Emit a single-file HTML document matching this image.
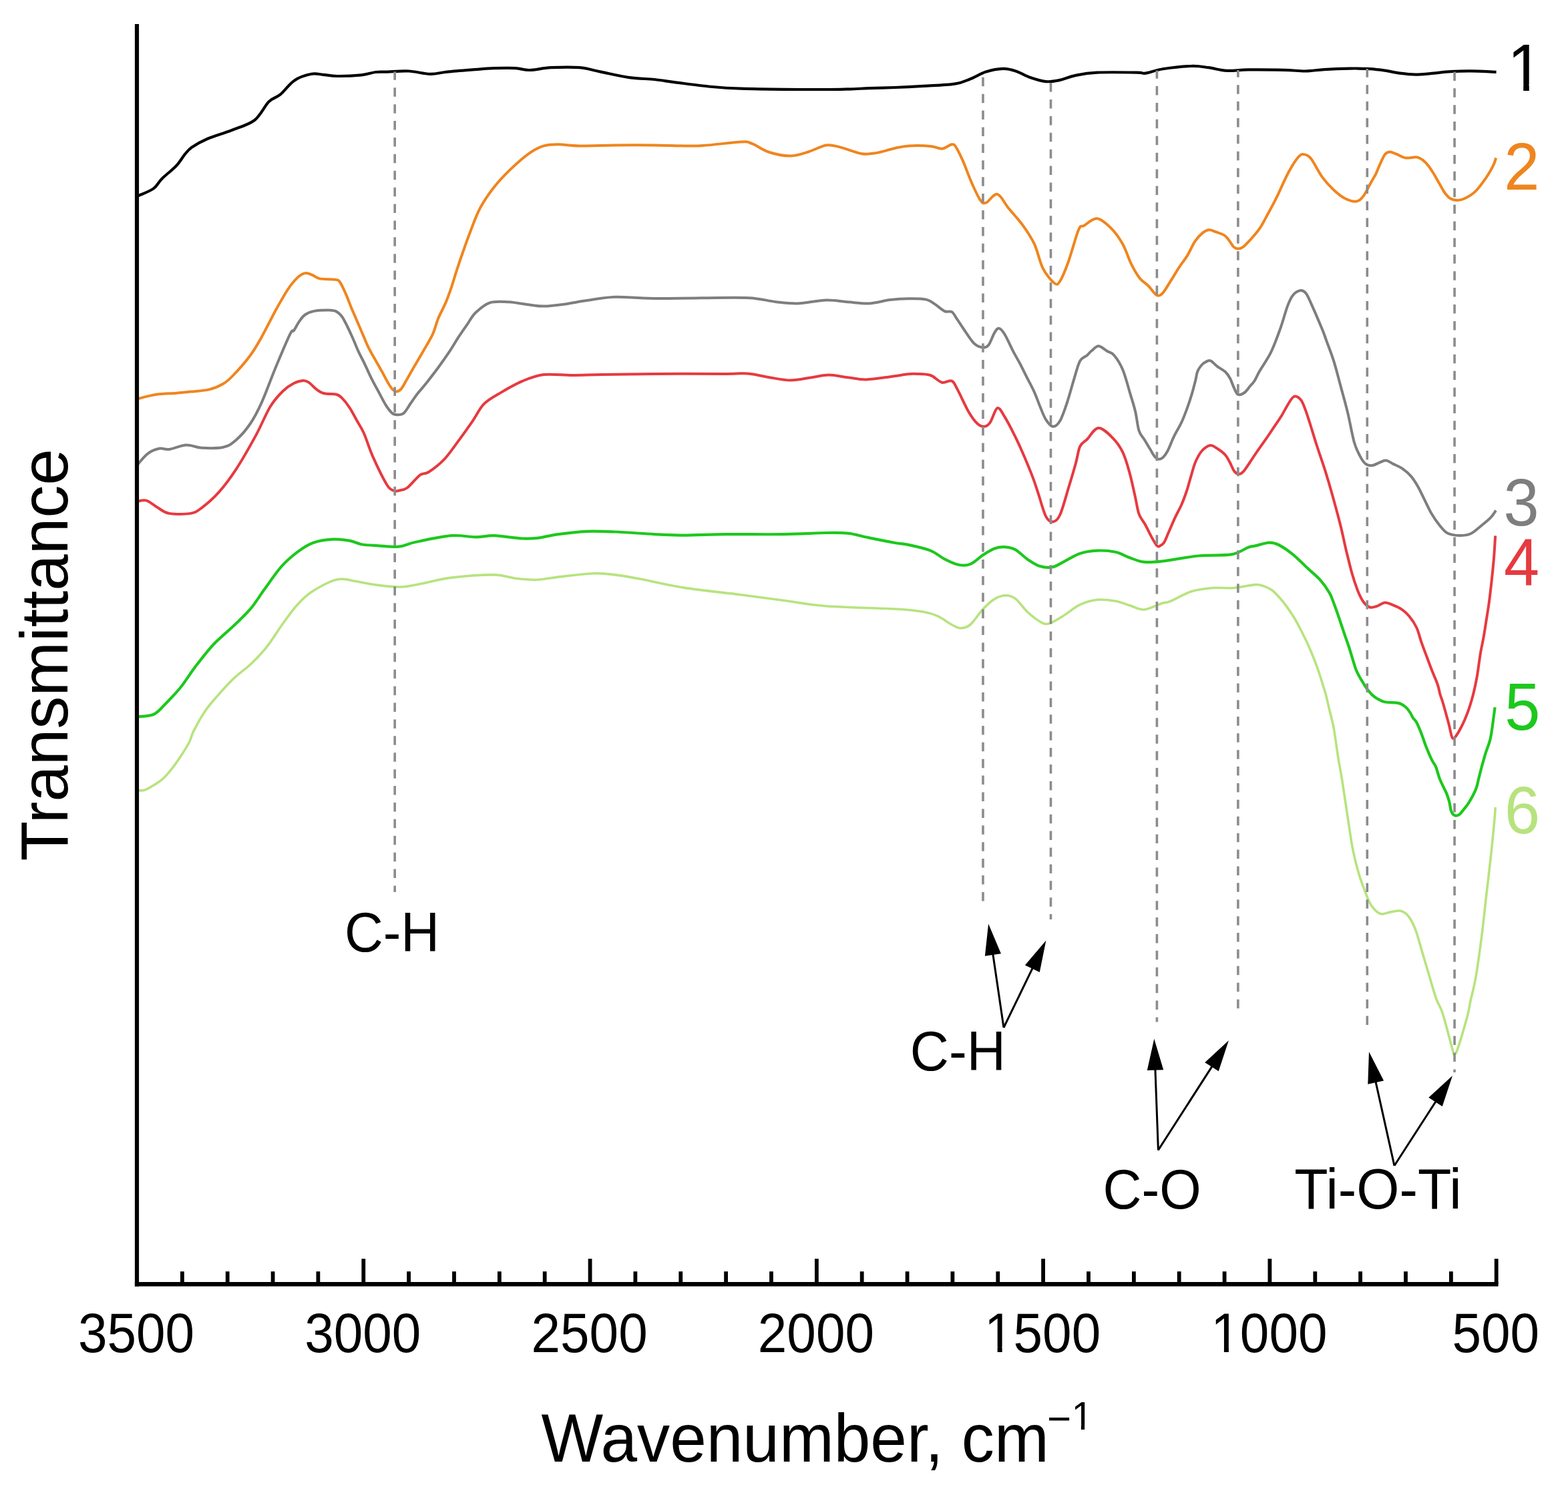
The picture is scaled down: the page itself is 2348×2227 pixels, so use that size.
<!DOCTYPE html><html><head><meta charset="utf-8"><title>FTIR spectra</title>
<style>html,body{margin:0;padding:0;background:#fff;}svg{display:block;}text{font-family:"Liberation Sans",Arial,sans-serif;}</style></head><body>
<svg xmlns="http://www.w3.org/2000/svg" width="2348" height="2227" viewBox="0 0 2348 2227">
<rect width="2348" height="2227" fill="#fff"/>
<path d="M205.0,1183.5 C206.9,1183.5 212.1,1184.7 216.7,1183.2 C221.3,1181.7 227.8,1177.6 232.6,1174.6 C237.4,1171.6 241.1,1169.1 245.4,1165.0 C249.7,1160.9 253.9,1155.6 258.2,1150.1 C262.5,1144.6 266.7,1138.6 271.0,1132.0 C275.3,1125.4 280.7,1116.8 283.8,1110.7 C286.9,1104.6 285.8,1103.1 289.6,1095.6 C293.4,1088.1 300.9,1074.2 306.6,1065.7 C312.3,1057.2 316.6,1052.6 323.7,1044.4 C330.8,1036.2 340.4,1025.2 349.3,1016.7 C358.2,1008.2 368.5,1001.4 377.0,993.2 C385.5,985.0 392.6,977.6 400.4,967.6 C408.2,957.6 416.4,943.8 423.9,933.5 C431.4,923.2 438.1,913.6 445.2,905.8 C452.3,898.0 457.6,892.6 466.5,886.6 C475.4,880.6 490.3,872.8 498.5,869.6 C506.7,866.4 509.9,867.2 515.6,867.4 C521.3,867.6 524.8,869.2 532.6,870.6 C540.4,872.0 551.3,874.5 562.5,875.9 C573.7,877.3 588.2,879.4 600.0,879.0 C611.8,878.6 620.6,876.0 633.3,873.7 C646.0,871.4 658.2,867.2 676.0,865.1 C693.8,863.0 723.9,860.7 739.9,860.9 C755.9,861.1 761.2,865.0 771.9,866.2 C782.6,867.4 793.2,868.6 803.9,868.3 C814.6,867.9 821.7,865.7 835.9,864.1 C850.1,862.5 875.0,859.2 889.2,858.7 C903.4,858.2 909.4,859.5 921.2,860.9 C933.0,862.3 942.9,864.1 960.0,867.3 C977.1,870.5 999.1,876.2 1024.0,880.1 C1048.9,884.0 1084.4,887.5 1109.3,890.7 C1134.2,893.9 1151.9,896.4 1173.2,899.3 C1194.5,902.1 1209.4,905.7 1237.2,907.8 C1265.0,909.9 1315.8,910.6 1340.0,912.0 C1364.2,913.4 1371.9,914.5 1382.6,916.3 C1393.3,918.1 1396.9,919.5 1404.0,922.7 C1411.1,925.9 1419.6,932.5 1425.3,935.5 C1431.0,938.5 1433.5,940.8 1438.1,940.8 C1442.7,940.8 1447.3,940.3 1453.0,935.5 C1458.7,930.7 1466.2,918.4 1472.2,912.0 C1478.2,905.6 1483.6,900.5 1489.3,897.1 C1495.0,893.7 1501.0,891.8 1506.3,891.8 C1511.6,891.8 1515.9,893.0 1521.2,897.1 C1526.5,901.2 1531.9,910.4 1538.3,916.3 C1544.7,922.2 1553.9,929.4 1559.6,932.3 C1565.3,935.1 1567.1,935.0 1572.4,933.4 C1577.7,931.8 1584.1,927.3 1591.6,922.7 C1599.1,918.1 1608.7,909.8 1617.2,905.7 C1625.7,901.6 1633.9,899.1 1642.8,898.2 C1651.7,897.3 1662.3,898.9 1670.5,900.3 C1678.7,901.7 1684.7,904.6 1691.8,906.7 C1698.9,908.8 1705.1,913.5 1713.1,913.0 C1721.1,912.5 1733.5,905.5 1740.0,903.5 C1746.5,901.5 1744.7,903.7 1752.0,900.7 C1759.3,897.8 1773.3,889.2 1784.0,885.8 C1794.7,882.4 1805.2,881.4 1815.9,880.5 C1826.6,879.6 1837.2,881.3 1847.9,880.5 C1858.6,879.7 1872.2,876.0 1879.9,875.6 C1887.6,875.2 1889.7,877.0 1893.9,878.4 C1898.1,879.8 1901.2,881.2 1904.9,884.0 C1908.6,886.8 1912.3,890.9 1916.0,895.0 C1919.7,899.1 1923.4,903.8 1927.1,908.9 C1930.8,914.0 1934.7,919.7 1938.2,925.5 C1941.7,931.3 1944.7,937.2 1947.9,943.5 C1951.1,949.8 1954.6,956.5 1957.6,963.0 C1960.6,969.5 1963.1,975.5 1965.9,982.4 C1968.7,989.3 1971.7,997.1 1974.2,1004.5 C1976.8,1011.9 1979.4,1020.8 1981.2,1026.7 C1983.0,1032.6 1983.8,1034.1 1985.3,1040.0 C1986.8,1045.9 1988.5,1053.6 1990.5,1062.0 C1992.5,1070.4 1995.0,1078.7 1997.2,1090.5 C1999.4,1102.3 2001.5,1119.8 2003.6,1133.1 C2005.7,1146.3 2007.4,1153.7 2010.0,1170.0 C2012.6,1186.3 2016.5,1213.9 2019.2,1231.2 C2021.9,1248.5 2023.5,1261.0 2026.1,1273.8 C2028.7,1286.6 2031.5,1297.4 2034.6,1307.9 C2037.7,1318.4 2041.7,1328.9 2044.8,1336.9 C2047.9,1344.9 2049.6,1350.4 2053.3,1355.7 C2057.0,1361.0 2062.2,1366.8 2067.0,1368.5 C2071.8,1370.2 2077.2,1366.6 2082.3,1365.9 C2087.4,1365.2 2093.1,1363.1 2097.7,1364.2 C2102.2,1365.3 2105.9,1368.0 2109.6,1372.8 C2113.3,1377.6 2116.5,1384.1 2119.9,1393.2 C2123.3,1402.3 2126.7,1415.9 2130.1,1427.3 C2133.5,1438.7 2136.9,1450.1 2140.3,1461.5 C2143.7,1472.9 2147.3,1486.2 2150.6,1495.6 C2153.9,1505.0 2156.2,1505.0 2160.3,1517.7 C2164.4,1530.4 2172.1,1561.5 2175.0,1571.7 C2177.9,1581.9 2176.3,1579.0 2177.5,1579.0 C2178.7,1579.0 2179.1,1581.1 2182.4,1571.7 C2185.7,1562.3 2193.9,1534.5 2197.1,1522.6 C2200.3,1510.6 2199.6,1510.2 2201.8,1500.0 C2204.0,1489.8 2207.5,1477.9 2210.3,1461.5 C2213.1,1445.1 2216.2,1421.7 2218.8,1401.8 C2221.4,1381.9 2223.3,1361.9 2225.6,1342.0 C2227.9,1322.1 2230.5,1300.8 2232.5,1282.3 C2234.5,1263.8 2236.5,1243.4 2237.6,1231.2 C2238.7,1219.0 2239.0,1212.7 2239.3,1209.0" fill="none" stroke="#B7E37E" stroke-width="3.6" stroke-linejoin="round" stroke-linecap="butt"/>
<path d="M205.0,1073.5 C209.2,1072.9 222.9,1073.1 229.9,1070.0 C236.9,1066.9 240.2,1061.8 246.9,1055.0 C253.7,1048.2 262.9,1038.7 270.4,1029.5 C277.9,1020.3 283.5,1010.3 291.7,999.6 C299.9,988.9 309.8,975.8 319.4,965.5 C329.0,955.2 340.1,946.7 349.3,937.8 C358.5,928.9 367.0,921.5 374.8,912.2 C382.6,903.0 388.4,893.0 396.2,882.3 C404.0,871.6 413.5,857.4 421.7,848.2 C429.9,839.0 437.4,832.8 445.2,826.9 C453.0,821.0 459.8,816.2 468.7,813.0 C477.6,809.8 489.3,808.2 498.5,807.7 C507.7,807.2 517.0,808.6 524.1,809.9 C531.2,811.1 534.1,814.0 541.2,815.2 C548.3,816.4 557.4,816.7 566.7,817.3 C576.0,817.9 587.8,819.6 597.1,818.7 C606.4,817.8 609.5,814.5 622.6,811.8 C635.8,809.0 661.1,803.4 676.0,802.2 C690.9,801.0 701.6,804.4 712.2,804.4 C722.9,804.4 728.2,801.9 739.9,802.2 C751.6,802.6 771.9,805.9 782.6,806.5 C793.3,807.1 795.0,807.0 803.9,805.9 C812.8,804.8 823.5,801.8 835.9,800.1 C848.3,798.4 864.3,796.4 878.5,795.8 C892.7,795.2 904.3,795.8 921.2,796.5 C938.1,797.2 962.9,799.2 980.0,800.1 C997.1,801.0 1006.0,801.6 1024.0,801.6 C1042.0,801.6 1063.0,800.4 1087.9,800.1 C1112.8,799.9 1148.3,800.5 1173.2,800.1 C1198.1,799.8 1221.2,798.2 1237.2,798.0 C1253.2,797.8 1258.5,797.4 1269.2,798.6 C1279.9,799.8 1289.4,803.0 1301.2,805.4 C1313.0,807.8 1330.0,811.2 1340.0,813.0 C1350.0,814.8 1352.4,814.2 1361.3,816.1 C1370.2,818.0 1384.4,821.1 1393.3,824.6 C1402.2,828.1 1407.5,833.8 1414.6,837.4 C1421.7,841.0 1429.6,844.8 1436.0,846.0 C1442.4,847.2 1447.0,847.4 1453.0,844.9 C1459.0,842.4 1466.2,834.9 1472.2,831.0 C1478.2,827.1 1483.6,823.4 1489.3,821.4 C1495.0,819.4 1501.0,818.9 1506.3,819.3 C1511.6,819.7 1515.9,820.6 1521.2,823.6 C1526.5,826.6 1532.2,833.3 1538.3,837.4 C1544.3,841.5 1551.1,846.1 1557.5,848.1 C1563.9,850.1 1570.3,850.5 1576.7,849.1 C1583.1,847.7 1589.2,843.0 1595.9,839.6 C1602.7,836.2 1609.4,831.4 1617.2,828.9 C1625.0,826.4 1633.9,825.0 1642.8,824.6 C1651.7,824.2 1662.3,825.0 1670.5,826.8 C1678.7,828.6 1684.7,832.8 1691.8,835.3 C1698.9,837.8 1705.1,840.8 1713.1,841.7 C1721.1,842.6 1726.4,842.0 1740.0,840.5 C1753.6,839.0 1777.3,834.2 1794.6,832.5 C1811.9,830.8 1831.2,832.5 1843.7,830.4 C1856.2,828.3 1863.2,821.9 1869.3,819.7 C1875.3,817.5 1874.8,818.6 1880.0,817.4 C1885.2,816.2 1895.0,812.8 1900.8,812.6 C1906.6,812.4 1908.9,813.1 1914.7,816.0 C1920.5,818.9 1928.5,824.4 1935.4,829.9 C1942.3,835.4 1949.3,842.8 1956.2,849.3 C1963.1,855.8 1971.2,862.2 1977.0,868.7 C1982.8,875.2 1987.4,882.1 1990.9,888.1 C1994.4,894.1 1995.5,898.7 1997.8,904.7 C2000.1,910.7 2002.2,916.7 2004.7,924.1 C2007.2,931.5 2010.5,941.6 2013.1,949.1 C2015.6,956.6 2017.8,962.2 2020.0,969.0 C2022.2,975.8 2024.6,984.3 2026.4,990.0 C2028.2,995.7 2029.1,999.3 2030.7,1003.3 C2032.3,1007.3 2034.0,1010.5 2036.0,1014.0 C2038.0,1017.5 2040.5,1021.5 2042.4,1024.6 C2044.4,1027.7 2045.7,1029.9 2047.7,1032.6 C2049.7,1035.3 2052.1,1038.3 2054.6,1040.6 C2057.1,1042.9 2059.5,1044.7 2062.6,1046.5 C2065.7,1048.3 2068.9,1050.3 2073.3,1051.3 C2077.8,1052.3 2085.3,1052.0 2089.3,1052.4 C2093.3,1052.9 2094.6,1052.8 2097.3,1054.0 C2100.0,1055.2 2102.9,1057.1 2105.3,1059.3 C2107.7,1061.5 2109.9,1064.6 2111.7,1067.3 C2113.5,1070.0 2114.4,1072.9 2116.0,1075.3 C2117.6,1077.7 2119.0,1077.7 2121.0,1081.5 C2123.0,1085.3 2125.8,1091.8 2128.2,1097.9 C2130.6,1104.0 2132.8,1111.3 2135.4,1118.0 C2138.1,1124.7 2141.7,1133.2 2144.1,1138.2 C2146.5,1143.2 2148.1,1143.6 2150.0,1148.1 C2151.9,1152.6 2153.7,1160.4 2155.5,1165.4 C2157.3,1170.4 2159.4,1174.2 2161.1,1177.9 C2162.8,1181.6 2164.4,1183.9 2165.9,1187.6 C2167.4,1191.3 2168.9,1195.7 2170.1,1200.1 C2171.3,1204.5 2171.6,1210.5 2172.9,1214.0 C2174.2,1217.5 2175.7,1219.9 2177.7,1220.9 C2179.7,1221.9 2182.4,1221.6 2184.7,1220.2 C2187.0,1218.8 2189.3,1215.4 2191.6,1212.6 C2193.9,1209.8 2196.2,1207.1 2198.5,1203.6 C2200.8,1200.1 2203.3,1195.8 2205.4,1191.8 C2207.5,1187.8 2209.5,1183.7 2211.0,1179.3 C2212.5,1174.9 2213.2,1170.0 2214.4,1165.4 C2215.6,1160.8 2216.7,1156.0 2217.9,1151.6 C2219.1,1147.2 2220.2,1143.1 2221.4,1139.1 C2222.6,1135.0 2223.5,1131.2 2224.8,1127.3 C2226.1,1123.4 2227.8,1119.0 2229.0,1115.5 C2230.2,1112.0 2230.9,1110.2 2231.8,1106.0 C2232.7,1101.8 2233.4,1097.8 2234.5,1090.0 C2235.6,1082.2 2237.9,1064.4 2238.6,1059.3" fill="none" stroke="#1DC81D" stroke-width="4.2" stroke-linejoin="round" stroke-linecap="butt"/>
<path d="M205.0,751.0 C207.4,750.8 214.0,748.2 219.2,749.7 C224.4,751.2 230.5,757.1 236.2,760.3 C241.9,763.5 245.1,767.5 253.3,768.9 C261.5,770.3 277.1,770.3 285.3,768.9 C293.5,767.5 295.2,765.6 302.3,760.3 C309.4,755.0 319.4,746.5 327.9,736.9 C336.4,727.3 344.2,717.0 353.5,702.8 C362.8,688.6 374.9,667.2 383.4,651.6 C391.9,636.0 397.9,620.0 404.7,609.0 C411.4,598.0 418.0,591.3 423.9,585.5 C429.8,579.7 435.0,576.6 440.0,574.0 C445.0,571.4 450.2,570.1 453.9,569.9 C457.6,569.7 458.7,570.4 462.2,572.7 C465.7,575.0 470.8,580.9 474.7,583.7 C478.6,586.5 480.8,588.1 485.7,589.3 C490.6,590.5 499.4,589.6 503.8,590.7 C508.2,591.9 508.9,593.0 512.1,596.2 C515.3,599.4 519.5,604.6 523.2,610.1 C526.9,615.6 530.6,623.0 534.2,629.5 C537.8,636.0 541.0,640.0 545.0,649.0 C549.0,658.0 552.5,670.7 558.2,683.6 C564.0,696.5 574.2,717.6 579.5,726.2 C584.8,734.8 587.3,733.6 590.2,735.0 C593.1,736.4 593.8,735.5 597.1,734.8 C600.4,734.0 604.6,734.4 609.9,730.5 C615.2,726.6 623.7,715.2 629.0,711.3 C634.3,707.4 635.8,710.9 641.8,707.0 C647.8,703.1 657.8,695.6 665.3,687.8 C672.8,680.0 679.5,669.7 686.6,660.1 C693.7,650.5 701.5,639.5 707.9,630.3 C714.3,621.1 717.9,611.8 725.0,604.7 C732.1,597.6 741.0,593.3 750.6,587.6 C760.2,581.9 772.0,575.0 782.6,570.6 C793.2,566.2 802.1,562.4 814.5,561.0 C826.9,559.6 843.0,562.0 857.2,562.0 C871.4,562.0 879.3,561.4 899.8,561.0 C920.3,560.6 948.6,560.1 980.0,559.9 C1011.4,559.7 1064.6,560.0 1087.9,559.9 C1111.2,559.8 1109.2,558.6 1119.9,559.5 C1130.6,560.4 1141.2,563.5 1151.9,565.2 C1162.6,566.9 1173.2,569.5 1183.9,569.5 C1194.6,569.5 1206.3,566.5 1215.9,565.2 C1225.5,563.9 1232.5,561.6 1241.4,561.6 C1250.3,561.6 1260.0,564.1 1269.2,565.2 C1278.5,566.3 1286.2,568.6 1296.9,568.4 C1307.6,568.2 1322.6,565.6 1333.1,564.2 C1343.6,562.9 1353.5,561.0 1360.0,560.3 C1366.5,559.6 1366.5,559.6 1372.0,559.9 C1377.5,560.2 1386.9,559.9 1393.3,562.0 C1399.7,564.1 1405.1,571.3 1410.4,572.7 C1415.7,574.1 1421.4,568.8 1425.3,570.6 C1429.2,572.4 1429.5,575.6 1433.8,583.4 C1438.1,591.2 1445.9,609.0 1450.9,617.5 C1455.9,626.0 1459.8,631.0 1463.7,634.5 C1467.6,638.0 1471.1,639.1 1474.3,638.8 C1477.5,638.4 1479.7,637.0 1482.9,632.4 C1486.1,627.8 1490.0,612.5 1493.5,611.1 C1497.0,609.7 1499.9,617.1 1504.2,623.9 C1508.5,630.6 1514.5,642.4 1519.1,651.6 C1523.7,660.8 1527.3,668.6 1531.9,679.3 C1536.5,690.0 1542.9,705.3 1546.8,715.6 C1550.7,725.9 1552.2,731.6 1555.4,741.2 C1558.6,750.8 1562.5,766.4 1566.0,773.1 C1569.5,779.8 1573.2,781.9 1576.7,781.5 C1580.2,781.1 1583.4,779.5 1587.3,771.0 C1591.2,762.5 1596.2,743.3 1600.1,730.5 C1604.0,717.7 1607.9,704.5 1610.8,694.2 C1613.7,683.9 1614.4,674.7 1617.2,668.7 C1620.0,662.7 1623.2,662.6 1627.8,658.0 C1632.4,653.4 1638.5,641.2 1644.9,640.9 C1651.3,640.5 1660.2,649.8 1666.2,655.9 C1672.2,662.0 1676.9,668.3 1681.2,677.2 C1685.5,686.1 1688.7,698.0 1691.8,709.2 C1694.9,720.4 1697.7,734.5 1700.0,744.6 C1702.3,754.7 1703.0,762.7 1705.5,769.6 C1708.0,776.5 1712.2,780.7 1715.2,786.2 C1718.2,791.7 1720.8,797.7 1723.6,802.8 C1726.4,807.9 1729.8,814.2 1731.9,816.7 C1734.0,819.2 1734.2,818.8 1736.0,818.1 C1737.8,817.4 1740.7,816.1 1743.0,812.6 C1745.3,809.1 1747.1,803.5 1749.9,797.3 C1752.7,791.0 1756.4,782.0 1759.6,775.1 C1762.8,768.2 1766.3,762.6 1769.3,755.7 C1772.3,748.8 1775.3,740.4 1777.6,733.5 C1779.9,726.6 1781.1,721.0 1783.2,714.1 C1785.3,707.2 1787.3,698.5 1790.1,692.0 C1792.9,685.5 1796.1,679.5 1799.8,675.3 C1803.5,671.1 1808.6,667.7 1812.3,667.0 C1816.0,666.3 1818.3,668.9 1822.0,671.2 C1825.7,673.5 1831.2,677.4 1834.4,680.9 C1837.6,684.4 1839.1,687.9 1841.4,692.0 C1843.7,696.1 1846.0,702.8 1848.3,705.8 C1850.6,708.8 1852.9,710.0 1855.2,710.0 C1857.5,710.0 1859.4,708.8 1862.2,705.8 C1865.0,702.8 1868.4,697.1 1871.9,692.0 C1875.4,686.9 1878.8,681.3 1883.0,675.3 C1887.2,669.3 1892.6,661.9 1896.8,655.9 C1901.0,649.9 1904.2,644.8 1907.9,639.3 C1911.6,633.8 1915.3,628.7 1919.0,622.7 C1922.7,616.7 1926.9,608.1 1930.1,603.3 C1933.3,598.4 1935.4,594.3 1938.4,593.6 C1941.4,592.9 1945.3,595.6 1948.1,599.1 C1950.9,602.6 1952.9,608.9 1955.0,614.4 C1957.1,619.9 1958.1,623.3 1960.9,632.0 C1963.7,640.7 1967.7,654.4 1971.6,666.5 C1975.5,678.6 1980.5,692.4 1984.4,704.9 C1988.3,717.4 1991.3,727.6 1995.1,741.2 C1998.9,754.8 2003.8,772.9 2007.3,786.7 C2010.8,800.5 2012.9,812.3 2015.8,824.2 C2018.7,836.1 2021.6,848.3 2024.4,858.3 C2027.2,868.2 2030.1,876.8 2032.9,883.9 C2035.7,891.0 2038.3,896.7 2041.4,901.0 C2044.5,905.3 2048.2,908.4 2051.6,909.5 C2055.0,910.6 2058.2,909.0 2061.9,907.8 C2065.6,906.6 2069.8,902.8 2073.8,902.5 C2077.8,902.2 2081.5,904.4 2085.8,906.1 C2090.1,907.8 2095.4,910.1 2099.4,912.9 C2103.4,915.7 2106.4,918.3 2110.1,922.8 C2113.8,927.3 2118.3,933.6 2121.3,940.0 C2124.3,946.4 2125.8,954.2 2128.3,961.3 C2130.8,968.4 2133.5,975.5 2136.2,982.6 C2138.8,989.7 2141.4,996.9 2144.2,1004.0 C2147.0,1011.1 2150.8,1019.3 2152.8,1025.3 C2154.9,1031.3 2155.2,1035.7 2156.5,1040.0 C2157.8,1044.3 2158.8,1046.3 2160.3,1051.3 C2161.8,1056.3 2164.0,1064.2 2165.6,1070.0 C2167.2,1075.8 2168.6,1080.7 2169.9,1086.0 C2171.2,1091.3 2172.6,1098.6 2173.6,1102.0 C2174.6,1105.4 2175.0,1106.2 2176.2,1106.2 C2177.3,1106.2 2178.7,1104.5 2180.5,1102.0 C2182.3,1099.5 2184.8,1095.3 2186.9,1091.3 C2189.0,1087.3 2191.4,1082.5 2193.3,1078.0 C2195.2,1073.5 2197.0,1069.0 2198.6,1064.6 C2200.2,1060.1 2201.5,1056.2 2202.9,1051.3 C2204.3,1046.4 2205.6,1042.2 2207.2,1035.3 C2208.8,1028.4 2210.7,1019.6 2212.3,1010.0 C2213.9,1000.4 2215.4,987.1 2217.0,977.8 C2218.6,968.5 2220.0,963.1 2221.6,954.3 C2223.2,945.5 2224.9,933.8 2226.3,925.0 C2227.7,916.2 2228.7,910.3 2229.9,901.5 C2231.1,892.7 2232.2,883.0 2233.4,872.2 C2234.6,861.5 2235.9,848.6 2236.9,837.0 C2237.9,825.4 2238.8,808.1 2239.2,802.3" fill="none" stroke="#E63A40" stroke-width="4.0" stroke-linejoin="round" stroke-linecap="butt"/>
<path d="M205.0,697.0 C207.7,694.0 215.7,683.5 221.3,679.3 C226.9,675.1 233.1,672.9 238.4,671.8 C243.7,670.7 246.6,673.8 253.3,672.9 C260.1,672.0 270.7,666.9 278.9,666.5 C287.1,666.1 293.1,670.3 302.3,670.8 C311.5,671.3 325.8,671.7 334.3,669.7 C342.8,667.8 346.8,665.0 353.5,659.1 C360.2,653.2 368.4,643.9 374.8,634.5 C381.2,625.1 385.5,616.8 391.9,602.6 C398.3,588.4 406.1,566.4 413.2,549.3 C420.3,532.2 430.0,509.2 434.5,500.2 C439.0,491.1 437.7,498.2 440.0,495.0 C442.3,491.8 445.5,485.1 448.3,481.2 C451.1,477.3 452.9,474.1 456.6,471.5 C460.3,468.9 464.5,467.1 470.5,465.9 C476.5,464.7 487.1,464.4 492.7,464.5 C498.2,464.6 500.6,465.0 503.8,466.6 C507.0,468.2 509.3,470.4 512.1,474.2 C514.9,478.0 517.6,483.9 520.4,489.5 C523.2,495.1 525.9,501.3 528.7,507.5 C531.5,513.7 534.0,520.4 537.0,526.9 C540.0,533.4 543.5,539.6 546.7,546.3 C549.9,553.0 552.9,560.2 556.4,567.1 C559.9,574.0 564.0,581.4 567.5,587.9 C571.0,594.4 574.0,600.8 577.2,605.9 C580.4,611.0 583.9,615.8 586.9,618.4 C589.9,621.0 592.2,621.2 595.2,621.2 C598.2,621.2 601.7,621.2 604.9,618.4 C608.1,615.6 611.4,609.1 614.6,604.5 C617.8,599.9 620.4,595.8 624.3,590.7 C628.2,585.6 632.9,580.7 638.2,574.0 C643.5,567.3 650.4,558.4 656.2,550.5 C662.0,542.6 667.7,534.5 672.8,526.9 C677.9,519.3 682.2,511.6 686.7,504.7 C691.2,497.8 695.8,491.4 700.0,485.3 C704.2,479.2 706.6,473.5 712.2,468.2 C717.8,462.9 725.3,456.0 733.5,453.3 C741.7,450.6 751.2,451.7 761.2,452.2 C771.2,452.7 784.3,455.4 793.2,456.5 C802.1,457.6 805.6,458.8 814.5,458.6 C823.4,458.4 835.8,456.8 846.5,455.4 C857.2,454.0 866.0,451.9 878.5,450.1 C891.0,448.3 904.3,445.3 921.2,444.8 C938.1,444.3 950.4,446.7 980.0,446.9 C1009.6,447.1 1073.5,445.8 1098.6,445.8 C1123.7,445.8 1119.9,445.8 1130.6,446.9 C1141.3,448.0 1151.9,450.9 1162.6,452.2 C1173.2,453.4 1182.1,454.8 1194.5,454.4 C1206.9,453.9 1224.8,449.9 1237.2,449.5 C1249.7,449.1 1258.5,451.4 1269.2,452.2 C1279.9,453.0 1290.6,454.9 1301.2,454.4 C1311.8,453.9 1323.1,450.2 1333.1,449.0 C1343.1,447.8 1352.3,447.4 1361.3,447.3 C1370.3,447.2 1380.5,447.2 1386.9,448.6 C1393.3,450.0 1395.1,452.5 1399.7,455.4 C1404.3,458.3 1410.3,464.1 1414.6,466.1 C1418.9,468.1 1422.1,465.1 1425.3,467.2 C1428.5,469.3 1430.2,473.8 1433.8,478.9 C1437.3,484.0 1442.3,492.1 1446.6,498.1 C1450.9,504.1 1455.1,511.4 1459.4,515.1 C1463.7,518.8 1468.7,520.3 1472.2,520.5 C1475.8,520.7 1477.9,519.9 1480.7,516.2 C1483.5,512.5 1486.8,502.2 1489.3,498.1 C1491.8,494.0 1493.2,491.4 1495.7,491.7 C1498.2,492.0 1500.7,494.5 1504.2,500.2 C1507.8,505.9 1513.1,518.3 1517.0,525.8 C1520.9,533.3 1524.0,538.2 1527.6,545.0 C1531.1,551.8 1534.7,559.2 1538.3,566.3 C1541.9,573.4 1545.8,580.5 1549.0,587.6 C1552.2,594.7 1554.7,602.2 1557.5,609.0 C1560.3,615.8 1562.8,623.1 1566.0,628.1 C1569.2,633.1 1573.2,638.4 1576.7,638.8 C1580.2,639.2 1583.8,636.3 1587.3,630.3 C1590.8,624.3 1594.4,613.3 1598.0,602.6 C1601.6,591.9 1605.5,576.6 1608.7,566.3 C1611.9,556.0 1614.0,546.4 1617.2,540.7 C1620.4,535.0 1625.0,534.7 1627.8,532.2 C1630.6,529.7 1631.3,528.1 1634.2,525.8 C1637.1,523.5 1641.0,518.3 1644.9,518.3 C1648.8,518.3 1653.8,523.5 1657.7,525.8 C1661.6,528.1 1664.5,527.6 1668.4,532.2 C1672.3,536.8 1677.3,544.3 1681.2,553.5 C1685.1,562.7 1688.7,577.2 1691.8,587.6 C1694.9,598.0 1697.7,606.2 1700.0,615.7 C1702.3,625.2 1703.2,637.6 1705.5,644.8 C1707.8,652.0 1711.1,654.1 1713.9,658.7 C1716.7,663.3 1719.7,668.4 1722.2,672.6 C1724.7,676.8 1727.0,681.2 1729.1,683.7 C1731.2,686.2 1732.6,687.6 1734.7,687.8 C1736.8,688.0 1739.3,687.1 1741.6,685.0 C1743.9,682.9 1745.7,680.6 1748.5,675.3 C1751.3,670.0 1754.7,660.4 1758.2,653.2 C1761.7,646.1 1766.1,639.3 1769.3,632.4 C1772.5,625.5 1775.1,618.5 1777.6,611.6 C1780.1,604.7 1782.4,597.7 1784.5,590.8 C1786.6,583.9 1788.6,575.9 1790.1,570.0 C1791.6,564.1 1791.8,559.6 1793.5,555.6 C1795.2,551.6 1797.9,548.3 1800.0,546.0 C1802.1,543.7 1803.8,542.7 1805.9,541.8 C1808.1,540.9 1810.1,539.2 1812.9,540.4 C1815.7,541.5 1818.9,545.9 1822.6,548.7 C1826.3,551.5 1831.8,554.0 1835.0,557.0 C1838.2,560.0 1839.9,562.9 1842.0,566.7 C1844.1,570.5 1845.5,576.0 1847.5,580.0 C1849.5,584.0 1851.1,589.5 1853.8,590.8 C1856.5,592.1 1860.5,590.1 1863.5,588.0 C1866.5,585.9 1869.4,581.3 1871.9,578.3 C1874.5,575.3 1876.4,573.8 1878.8,570.0 C1881.2,566.2 1882.3,562.6 1886.3,555.6 C1890.3,548.6 1897.9,538.3 1903.0,527.9 C1908.1,517.5 1912.6,504.9 1916.8,493.3 C1921.0,481.8 1924.7,467.2 1927.9,458.6 C1931.1,450.1 1933.0,445.9 1936.2,442.0 C1939.4,438.1 1944.1,435.5 1947.3,435.0 C1950.5,434.5 1952.8,435.7 1955.6,439.2 C1958.4,442.7 1959.8,446.8 1963.9,455.8 C1968.0,464.8 1976.2,484.1 1980.0,493.3 C1983.8,502.5 1983.6,503.0 1986.5,510.9 C1989.4,518.8 1993.7,529.3 1997.2,540.7 C2000.8,552.1 2004.2,566.0 2007.8,579.1 C2011.3,592.2 2015.2,605.8 2018.5,619.6 C2021.8,633.5 2024.8,651.7 2027.8,662.2 C2030.8,672.7 2033.5,677.2 2036.3,682.6 C2039.1,688.0 2041.7,692.2 2044.8,694.6 C2047.9,697.0 2051.7,697.4 2055.1,697.1 C2058.5,696.8 2061.9,694.2 2065.3,692.9 C2068.7,691.6 2072.1,689.2 2075.5,689.5 C2078.9,689.8 2081.8,692.6 2085.8,694.6 C2089.8,696.6 2094.9,698.3 2099.4,701.4 C2103.9,704.5 2109.0,708.8 2113.0,713.3 C2117.0,717.8 2119.9,722.7 2123.3,728.7 C2126.7,734.7 2130.1,742.4 2133.5,749.2 C2136.9,756.0 2140.1,763.4 2143.8,769.6 C2147.5,775.9 2151.7,781.9 2155.7,786.7 C2159.7,791.5 2162.8,796.1 2167.6,798.6 C2172.4,801.1 2179.0,801.9 2184.7,802.0 C2190.4,802.1 2196.1,802.0 2201.8,799.5 C2207.5,797.0 2213.7,790.8 2218.8,786.7 C2223.9,782.6 2228.9,778.5 2232.5,774.8 C2236.1,771.1 2238.8,766.2 2240.1,764.5" fill="none" stroke="#7E7E7E" stroke-width="4.0" stroke-linejoin="round" stroke-linecap="butt"/>
<path d="M205.0,597.5 C209.8,596.4 224.3,592.3 234.1,590.8 C243.9,589.3 255.5,589.4 264.0,588.7 C272.5,588.0 277.1,587.5 285.3,586.6 C293.5,585.7 304.8,585.4 313.0,583.4 C321.2,581.4 328.2,578.4 334.3,574.8 C340.4,571.2 342.6,569.1 349.3,562.0 C356.1,554.9 367.7,541.8 374.8,532.2 C381.9,522.6 385.5,515.9 391.9,504.5 C398.3,493.1 406.8,475.6 413.2,464.0 C419.6,452.4 425.5,442.1 430.0,435.0 C434.5,427.9 436.9,425.2 440.0,421.6 C443.1,418.0 445.3,415.4 448.3,413.3 C451.3,411.2 454.8,409.3 458.0,409.1 C461.2,408.9 464.2,410.5 467.7,411.9 C471.2,413.3 473.0,416.2 478.8,417.4 C484.6,418.5 497.3,417.9 502.4,418.8 C507.5,419.7 506.8,419.5 509.3,423.0 C511.8,426.5 514.8,433.4 517.6,439.6 C520.4,445.8 523.1,453.7 525.9,460.4 C528.7,467.1 531.4,473.3 534.2,479.8 C537.0,486.3 539.8,492.7 542.6,499.2 C545.4,505.7 547.9,512.4 550.9,518.6 C553.9,524.8 557.1,530.4 560.6,536.6 C564.1,542.8 568.2,549.8 571.7,556.0 C575.2,562.2 578.6,569.4 581.4,574.0 C584.2,578.6 586.2,581.6 588.3,583.7 C590.4,585.8 591.7,586.7 593.8,586.5 C595.9,586.3 598.2,585.4 600.8,582.4 C603.3,579.4 605.9,574.0 609.1,568.5 C612.3,563.0 616.1,556.3 620.2,549.1 C624.4,541.9 629.4,533.6 634.0,525.5 C638.6,517.4 644.2,508.7 647.9,500.6 C651.6,492.5 653.0,484.9 656.2,477.0 C659.4,469.1 664.1,461.1 667.3,453.5 C670.5,445.9 672.8,439.4 675.6,431.3 C678.4,423.2 681.1,413.4 683.9,404.9 C686.7,396.3 689.0,389.4 692.3,380.0 C695.6,370.6 699.3,359.8 703.7,348.5 C708.1,337.2 712.6,323.7 718.6,312.3 C724.6,300.9 732.1,290.2 739.9,280.3 C747.7,270.4 756.6,261.1 765.5,252.6 C774.4,244.1 785.0,234.8 793.2,229.1 C801.4,223.4 807.4,220.5 814.5,218.4 C821.6,216.3 827.0,216.3 835.9,216.3 C844.8,216.3 853.6,218.2 867.8,218.4 C882.0,218.6 902.5,217.6 921.2,217.4 C939.9,217.2 959.3,217.2 980.0,217.4 C1000.7,217.6 1023.8,219.2 1045.3,218.4 C1066.8,217.6 1095.8,213.0 1109.3,212.5 C1122.8,212.0 1119.2,212.6 1126.3,215.2 C1133.4,217.8 1142.3,225.0 1151.9,228.0 C1161.5,231.0 1174.0,233.6 1183.9,233.4 C1193.9,233.2 1202.7,229.7 1211.6,227.0 C1220.5,224.3 1229.4,218.5 1237.2,217.4 C1245.0,216.3 1249.6,218.5 1258.5,220.6 C1267.4,222.7 1281.6,228.8 1290.5,230.2 C1299.4,231.6 1303.5,230.5 1311.8,229.1 C1320.0,227.7 1331.8,223.8 1340.0,222.0 C1348.2,220.2 1352.4,218.9 1361.3,218.4 C1370.2,217.9 1385.1,218.2 1393.3,218.9 C1401.5,219.6 1405.1,223.1 1410.4,222.7 C1415.7,222.3 1421.8,216.7 1425.3,216.3 C1428.8,216.0 1428.9,216.3 1431.7,220.6 C1434.5,224.9 1438.4,233.0 1442.3,241.9 C1446.2,250.8 1450.8,264.3 1455.1,273.9 C1459.4,283.5 1464.3,294.5 1467.9,299.5 C1471.5,304.5 1472.2,305.1 1476.5,303.7 C1480.8,302.3 1487.8,289.5 1493.5,290.9 C1499.2,292.3 1504.2,304.5 1510.6,312.3 C1517.0,320.1 1525.5,328.9 1531.9,337.8 C1538.3,346.7 1544.0,354.9 1549.0,365.6 C1554.0,376.3 1556.7,392.1 1561.7,401.8 C1566.7,411.5 1574.5,420.8 1578.8,424.0 C1583.1,427.2 1583.8,426.5 1587.3,421.0 C1590.8,415.5 1595.5,404.0 1600.1,391.2 C1604.7,378.4 1611.2,353.1 1615.1,344.2 C1619.0,335.3 1619.0,340.6 1623.6,337.8 C1628.2,335.0 1636.0,326.5 1642.8,327.2 C1649.5,327.9 1657.7,335.7 1664.1,342.1 C1670.5,348.5 1676.2,356.7 1681.2,365.6 C1686.2,374.5 1689.8,386.9 1694.0,395.4 C1698.2,403.9 1702.5,411.3 1706.7,416.7 C1711.0,422.1 1715.3,423.8 1719.5,428.0 C1723.7,432.2 1728.5,440.1 1732.0,442.0 C1735.5,443.9 1737.5,442.4 1740.8,439.2 C1744.1,436.0 1747.8,429.1 1751.9,422.6 C1756.1,416.1 1761.3,407.1 1765.7,400.4 C1770.1,393.7 1774.3,388.9 1778.2,382.4 C1782.1,375.9 1785.6,367.2 1789.3,361.6 C1793.0,356.1 1796.9,352.0 1800.4,349.1 C1803.9,346.2 1806.9,344.7 1810.1,344.3 C1813.3,343.9 1815.9,345.6 1819.8,347.0 C1823.7,348.4 1830.2,350.4 1833.7,352.6 C1837.2,354.8 1838.3,357.3 1840.6,360.2 C1842.9,363.1 1845.2,367.8 1847.5,369.9 C1849.8,371.9 1852.1,372.5 1854.4,372.5 C1856.7,372.5 1858.4,372.2 1861.4,369.9 C1864.4,367.6 1868.3,363.4 1872.5,358.8 C1876.7,354.2 1881.9,348.7 1886.3,342.2 C1890.7,335.7 1894.5,327.8 1898.8,320.0 C1903.1,312.2 1906.9,305.4 1911.9,295.2 C1916.9,285.0 1923.7,268.9 1929.0,259.0 C1934.3,249.1 1940.0,240.1 1943.9,235.5 C1947.8,230.9 1949.2,230.8 1952.4,231.2 C1955.6,231.5 1958.5,231.9 1963.1,237.6 C1967.7,243.3 1974.4,257.6 1980.1,265.4 C1985.8,273.2 1991.5,279.2 1997.2,284.5 C2002.9,289.8 2008.5,294.4 2014.2,297.3 C2019.9,300.2 2026.7,302.3 2031.3,301.6 C2035.9,300.9 2038.5,297.7 2042.0,293.1 C2045.5,288.5 2049.6,279.2 2052.6,273.9 C2055.6,268.5 2057.7,265.6 2060.0,261.0 C2062.3,256.4 2064.1,251.1 2066.4,246.1 C2068.7,241.1 2071.4,234.3 2073.9,231.2 C2076.4,228.1 2078.3,227.4 2081.3,227.4 C2084.3,227.4 2088.1,229.7 2092.0,231.2 C2095.9,232.7 2099.8,235.8 2104.8,236.5 C2109.8,237.2 2117.5,234.9 2121.8,235.4 C2126.1,235.9 2127.6,237.6 2130.4,239.7 C2133.2,241.8 2136.1,244.6 2138.9,248.2 C2141.7,251.8 2144.6,256.4 2147.4,261.0 C2150.2,265.6 2153.3,271.4 2156.0,276.0 C2158.7,280.6 2160.8,285.1 2163.4,288.7 C2166.1,292.2 2168.7,295.4 2171.9,297.3 C2175.1,299.2 2179.0,299.9 2182.6,299.9 C2186.2,299.9 2188.9,299.5 2193.3,297.3 C2197.8,295.1 2204.0,291.8 2209.3,286.6 C2214.6,281.5 2220.8,272.8 2225.2,266.4 C2229.6,260.0 2233.4,253.2 2235.9,248.2 C2238.4,243.2 2239.5,238.4 2240.2,236.5" fill="none" stroke="#EF851E" stroke-width="4.0" stroke-linejoin="round" stroke-linecap="butt"/>
<path d="M205.0,293.5 C205.4,293.4 203.3,294.9 207.5,293.0 C211.7,291.1 224.1,286.6 229.9,282.4 C235.8,278.1 236.9,273.2 242.6,267.5 C248.3,261.8 258.3,254.4 264.0,248.3 C269.7,242.2 272.9,235.8 276.8,231.2 C280.7,226.6 281.7,224.5 287.4,220.6 C293.1,216.7 300.9,212.1 310.9,207.8 C320.8,203.5 335.4,199.6 347.1,195.0 C358.8,190.4 371.9,187.1 381.2,180.0 C390.4,172.9 396.2,158.7 402.6,152.3 C409.0,145.9 413.2,147.0 419.6,141.7 C426.0,136.4 433.2,125.6 441.0,120.4 C448.8,115.2 459.4,112.2 466.5,110.8 C473.6,109.4 477.2,111.3 483.6,111.8 C490.0,112.3 495.3,113.9 504.9,114.0 C514.5,114.1 531.6,113.3 541.2,112.3 C550.8,111.3 556.0,108.8 562.5,108.0 C569.0,107.2 571.8,107.8 580.0,107.6 C588.2,107.3 601.3,106.0 612.0,106.5 C622.7,107.0 634.4,110.6 644.0,110.8 C653.6,111.0 659.0,108.7 669.6,107.6 C680.2,106.5 696.2,105.3 707.9,104.4 C719.6,103.5 729.2,102.6 739.9,102.2 C750.6,101.8 763.0,101.7 771.9,102.2 C780.8,102.7 784.3,105.2 793.2,105.0 C802.1,104.8 812.8,101.8 825.2,101.2 C837.6,100.6 855.4,100.1 867.8,101.2 C880.2,102.3 887.3,105.1 899.8,107.6 C912.2,110.1 929.1,114.2 942.5,116.1 C955.9,118.0 968.2,117.8 980.0,119.0 C991.8,120.2 998.9,121.8 1013.3,123.6 C1027.7,125.4 1050.6,128.5 1066.6,130.0 C1082.6,131.5 1091.5,132.1 1109.3,132.7 C1127.1,133.3 1148.3,133.6 1173.2,133.8 C1198.1,134.0 1237.2,134.1 1258.5,133.8 C1279.8,133.5 1287.6,132.6 1301.2,132.1 C1314.8,131.6 1326.4,131.5 1340.0,131.0 C1353.6,130.5 1367.7,129.8 1382.6,128.9 C1397.5,128.0 1417.9,127.5 1429.6,125.7 C1441.3,123.9 1445.2,121.2 1453.0,118.2 C1460.8,115.2 1468.3,110.1 1476.5,107.6 C1484.7,105.0 1494.5,103.1 1502.0,102.9 C1509.5,102.7 1514.4,104.3 1521.2,106.5 C1528.0,108.7 1535.1,113.5 1542.6,116.1 C1550.1,118.7 1558.9,121.4 1566.0,122.1 C1573.1,122.8 1577.7,121.9 1585.2,120.4 C1592.7,118.9 1601.2,114.9 1610.8,112.9 C1620.4,110.9 1627.5,109.3 1642.8,108.6 C1658.1,107.9 1690.4,108.4 1702.5,108.6 C1714.6,108.8 1708.8,110.6 1715.3,109.7 C1721.8,108.8 1729.8,105.1 1741.3,103.3 C1752.8,101.5 1772.6,99.3 1784.0,99.0 C1795.4,98.7 1800.7,100.0 1809.6,101.2 C1818.5,102.4 1827.3,105.4 1837.3,105.9 C1847.2,106.4 1855.1,104.6 1869.3,104.4 C1883.5,104.2 1908.4,104.5 1922.6,104.8 C1936.8,105.1 1944.5,106.6 1954.5,106.5 C1964.5,106.4 1971.8,104.8 1982.8,104.1 C1993.8,103.4 2009.3,102.8 2020.7,102.6 C2032.1,102.4 2042.2,102.6 2051.0,103.1 C2059.8,103.6 2066.2,104.5 2073.8,105.6 C2081.4,106.7 2088.9,108.7 2096.5,109.7 C2104.1,110.7 2111.7,111.6 2119.3,111.7 C2126.9,111.8 2133.2,111.0 2142.0,110.2 C2150.8,109.5 2162.2,107.8 2172.3,107.2 C2182.4,106.6 2191.3,106.3 2202.7,106.4 C2214.1,106.5 2234.3,107.7 2240.6,107.9" fill="none" stroke="#000000" stroke-width="4.2" stroke-linejoin="round" stroke-linecap="butt"/>
<line x1="591.2" y1="107.2" x2="591.2" y2="1336.0" stroke="#8c8c8c" stroke-width="3.6" stroke-dasharray="13.50 11.40" stroke-dashoffset="0.86"/>
<line x1="1472.0" y1="109.6" x2="1472.0" y2="1350.0" stroke="#8c8c8c" stroke-width="3.6" stroke-dasharray="13.50 11.40" stroke-dashoffset="18.68"/>
<line x1="1573.5" y1="121.4" x2="1573.5" y2="1377.0" stroke="#8c8c8c" stroke-width="3.6" stroke-dasharray="13.50 11.40" stroke-dashoffset="22.19"/>
<line x1="1732.4" y1="105.5" x2="1732.4" y2="1530.5" stroke="#8c8c8c" stroke-width="3.6" stroke-dasharray="13.50 11.40" stroke-dashoffset="1.34"/>
<line x1="1853.9" y1="105.1" x2="1853.9" y2="1511.0" stroke="#8c8c8c" stroke-width="3.6" stroke-dasharray="13.50 11.40" stroke-dashoffset="2.87"/>
<line x1="2047.3" y1="103.0" x2="2047.3" y2="1535.0" stroke="#8c8c8c" stroke-width="3.6" stroke-dasharray="13.50 11.40" stroke-dashoffset="0.69"/>
<line x1="2178.1" y1="107.0" x2="2178.1" y2="1606.0" stroke="#8c8c8c" stroke-width="3.6" stroke-dasharray="13.50 11.40" stroke-dashoffset="24.50"/>
<line x1="205" y1="36" x2="205" y2="1926.5" stroke="#000" stroke-width="6.2"/>
<line x1="201.9" y1="1923.2" x2="2243.6" y2="1923.2" stroke="#000" stroke-width="6.4"/>
<line x1="272.9" y1="1904.2" x2="272.9" y2="1923" stroke="#000" stroke-width="5.8"/>
<line x1="340.7" y1="1904.2" x2="340.7" y2="1923" stroke="#000" stroke-width="5.8"/>
<line x1="408.6" y1="1904.2" x2="408.6" y2="1923" stroke="#000" stroke-width="5.8"/>
<line x1="476.4" y1="1904.2" x2="476.4" y2="1923" stroke="#000" stroke-width="5.8"/>
<line x1="544.3" y1="1885.2" x2="544.3" y2="1923" stroke="#000" stroke-width="5.8"/>
<line x1="612.1" y1="1904.2" x2="612.1" y2="1923" stroke="#000" stroke-width="5.8"/>
<line x1="680.0" y1="1904.2" x2="680.0" y2="1923" stroke="#000" stroke-width="5.8"/>
<line x1="747.9" y1="1904.2" x2="747.9" y2="1923" stroke="#000" stroke-width="5.8"/>
<line x1="815.7" y1="1904.2" x2="815.7" y2="1923" stroke="#000" stroke-width="5.8"/>
<line x1="883.6" y1="1885.2" x2="883.6" y2="1923" stroke="#000" stroke-width="5.8"/>
<line x1="951.4" y1="1904.2" x2="951.4" y2="1923" stroke="#000" stroke-width="5.8"/>
<line x1="1019.3" y1="1904.2" x2="1019.3" y2="1923" stroke="#000" stroke-width="5.8"/>
<line x1="1087.1" y1="1904.2" x2="1087.1" y2="1923" stroke="#000" stroke-width="5.8"/>
<line x1="1155.0" y1="1904.2" x2="1155.0" y2="1923" stroke="#000" stroke-width="5.8"/>
<line x1="1222.9" y1="1885.2" x2="1222.9" y2="1923" stroke="#000" stroke-width="5.8"/>
<line x1="1290.7" y1="1904.2" x2="1290.7" y2="1923" stroke="#000" stroke-width="5.8"/>
<line x1="1358.6" y1="1904.2" x2="1358.6" y2="1923" stroke="#000" stroke-width="5.8"/>
<line x1="1426.4" y1="1904.2" x2="1426.4" y2="1923" stroke="#000" stroke-width="5.8"/>
<line x1="1494.3" y1="1904.2" x2="1494.3" y2="1923" stroke="#000" stroke-width="5.8"/>
<line x1="1562.1" y1="1885.2" x2="1562.1" y2="1923" stroke="#000" stroke-width="5.8"/>
<line x1="1630.0" y1="1904.2" x2="1630.0" y2="1923" stroke="#000" stroke-width="5.8"/>
<line x1="1697.9" y1="1904.2" x2="1697.9" y2="1923" stroke="#000" stroke-width="5.8"/>
<line x1="1765.7" y1="1904.2" x2="1765.7" y2="1923" stroke="#000" stroke-width="5.8"/>
<line x1="1833.6" y1="1904.2" x2="1833.6" y2="1923" stroke="#000" stroke-width="5.8"/>
<line x1="1901.4" y1="1885.2" x2="1901.4" y2="1923" stroke="#000" stroke-width="5.8"/>
<line x1="1969.3" y1="1904.2" x2="1969.3" y2="1923" stroke="#000" stroke-width="5.8"/>
<line x1="2037.1" y1="1904.2" x2="2037.1" y2="1923" stroke="#000" stroke-width="5.8"/>
<line x1="2105.0" y1="1904.2" x2="2105.0" y2="1923" stroke="#000" stroke-width="5.8"/>
<line x1="2172.9" y1="1904.2" x2="2172.9" y2="1923" stroke="#000" stroke-width="5.8"/>
<line x1="2240.7" y1="1885.2" x2="2240.7" y2="1923" stroke="#000" stroke-width="5.8"/>
<text transform="translate(204.0,2025.2) scale(1,1.070)" font-size="78.3" text-anchor="middle" fill="#000">3500</text>
<text transform="translate(543.3,2025.2) scale(1,1.070)" font-size="78.3" text-anchor="middle" fill="#000">3000</text>
<text transform="translate(882.6,2025.2) scale(1,1.070)" font-size="78.3" text-anchor="middle" fill="#000">2500</text>
<text transform="translate(1221.9,2025.2) scale(1,1.070)" font-size="78.3" text-anchor="middle" fill="#000">2000</text>
<text transform="translate(1561.1,2025.2) scale(1,1.070)" font-size="78.3" text-anchor="middle" fill="#000">1500</text>
<rect x="1479.21" y="2016.99" width="14.41" height="9.71" fill="#fff"/><rect x="1500.67" y="2016.99" width="13.78" height="9.71" fill="#fff"/>
<text transform="translate(1900.4,2025.2) scale(1,1.070)" font-size="78.3" text-anchor="middle" fill="#000">1000</text>
<rect x="1818.50" y="2016.99" width="14.41" height="9.71" fill="#fff"/><rect x="1839.95" y="2016.99" width="13.78" height="9.71" fill="#fff"/>
<text transform="translate(2239.7,2025.2) scale(1,1.070)" font-size="78.3" text-anchor="middle" fill="#000">500</text>
<text transform="translate(810.4,2188.8) scale(1,1.03)" font-size="98.2" fill="#000">Wavenumber, cm</text>
<text transform="translate(1568,2145.6)" font-size="62" fill="#000">−</text>
<text transform="translate(1604.4,2140.5) scale(1,1.02)" font-size="58" fill="#000">1</text>
<rect x="1608.23" y="2134.70" width="10.67" height="7.30" fill="#fff"/><rect x="1624.12" y="2134.70" width="10.21" height="7.30" fill="#fff"/>
<text transform="translate(101,1289.5) rotate(-90) scale(1,1.03)" font-size="98" fill="#000">Transmittance</text>
<text transform="translate(2257.3,136.4) scale(1,1.050)" font-size="95.5" fill="#000000">1</text>
<rect x="2263.60" y="126.57" width="17.57" height="11.33" fill="#fff"/><rect x="2289.77" y="126.57" width="16.81" height="11.33" fill="#fff"/>
<text transform="translate(2252.2,283.5) scale(1,1.050)" font-size="95.5" fill="#EF851E">2</text>
<text transform="translate(2251.5,786.5) scale(1,1.050)" font-size="95.5" fill="#7E7E7E">3</text>
<text transform="translate(2252.0,876.7) scale(1,1.050)" font-size="95.5" fill="#E63A40">4</text>
<text transform="translate(2253.2,1093.0) scale(1,1.050)" font-size="95.5" fill="#1DC81D">5</text>
<text transform="translate(2253.0,1247.8) scale(1,1.050)" font-size="95.5" fill="#B7E37E">6</text>
<text transform="translate(515.9,1425.2) scale(1,1.04)" font-size="80.0" fill="#000">C-H</text>
<text transform="translate(1362.8,1602.5) scale(1,1.04)" font-size="80.5" fill="#000">C-H</text>
<text transform="translate(1651.5,1809.8) scale(1,1.04)" font-size="80.3" fill="#000">C-O</text>
<text transform="translate(1938.2,1809.8) scale(1,1.04)" font-size="82.5" fill="#000">Ti-O-Ti</text>
<line x1="1503.0" y1="1539.0" x2="1486.7" y2="1428.0" stroke="#000" stroke-width="3.0"/><polygon points="1480.1,1383.5 1499.0,1428.2 1474.9,1431.8" fill="#000"/>
<line x1="1503.0" y1="1539.0" x2="1546.7" y2="1448.9" stroke="#000" stroke-width="3.0"/><polygon points="1566.4,1408.4 1556.8,1456.0 1534.9,1445.4" fill="#000"/>
<line x1="1734.4" y1="1722.5" x2="1729.9" y2="1600.7" stroke="#000" stroke-width="3.0"/><polygon points="1728.3,1555.7 1742.2,1602.2 1717.8,1603.1" fill="#000"/>
<line x1="1734.4" y1="1722.5" x2="1815.6" y2="1596.1" stroke="#000" stroke-width="3.0"/><polygon points="1839.9,1558.2 1824.8,1604.3 1804.2,1591.2" fill="#000"/>
<line x1="2088.0" y1="1745.8" x2="2059.8" y2="1619.2" stroke="#000" stroke-width="3.0"/><polygon points="2050.0,1575.3 2072.1,1618.5 2048.3,1623.8" fill="#000"/>
<line x1="2088.0" y1="1745.8" x2="2150.6" y2="1648.7" stroke="#000" stroke-width="3.0"/><polygon points="2175.0,1610.9 2159.8,1657.0 2139.3,1643.8" fill="#000"/>
</svg></body></html>
